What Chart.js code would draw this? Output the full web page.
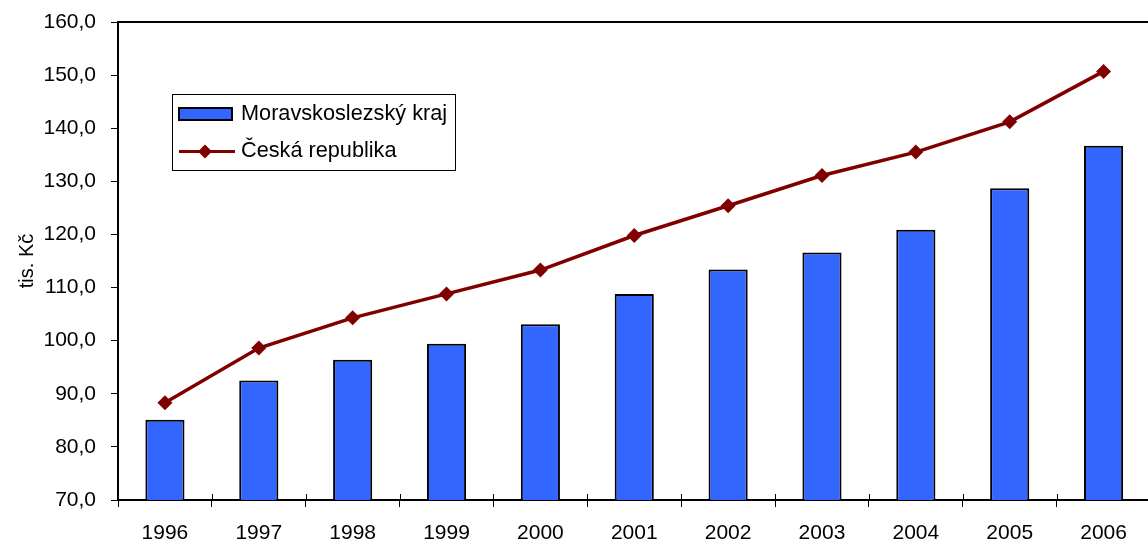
<!DOCTYPE html>
<html>
<head>
<meta charset="utf-8">
<script src="https://cdn.jsdelivr.net/npm/chart.js@4/dist/chart.umd.min.js"></script>
<style>
  html, body { margin: 0; padding: 0; background: #ffffff; overflow: hidden; }
  #wrap { width: 1158px; height: 540px; }
</style>
</head>
<body>
<div id="wrap"><canvas id="c" width="1158" height="540"></canvas></div>
<script>
const categories = ['1996','1997','1998','1999','2000','2001','2002','2003','2004','2005','2006'];
const moravskoslezsky = [85.1, 92.5, 96.4, 99.4, 103.1, 108.8, 113.4, 116.6, 120.9, 128.7, 136.7];
const ceskaRepublika = [88.3, 98.6, 104.3, 108.8, 113.3, 119.8, 125.4, 131.1, 135.5, 141.2, 150.7];
const yMin = 70, yMax = 160, yStep = 10;
const seriesLabels = ['Moravskoslezský kraj', 'Česká republika'];
const yTitle = 'tis. Kč';

const FONT = '"Liberation Sans", Arial, sans-serif';
const BLUE = '#3366ff';
const DARKRED = '#800000';

const frameAndLegend = {
  id: 'frameAndLegend',
  afterDatasetsDraw(chart) {
    const ctx = chart.ctx;
    const a = chart.chartArea;
    ctx.save();
    // top / right border of plot area
    ctx.strokeStyle = '#000';
    ctx.lineWidth = 2;
    ctx.beginPath();
    ctx.moveTo(a.left, a.top);
    ctx.lineTo(a.right, a.top);
    ctx.lineTo(a.right, a.bottom);
    ctx.stroke();

    // upper half of crossing x tick marks at category boundaries
    const xs = chart.scales.x;
    const half = (xs.getPixelForValue(1) - xs.getPixelForValue(0)) / 2;
    ctx.lineWidth = 1;
    ctx.beginPath();
    for (let i = 1; i < categories.length; i++) {
      const px = Math.round(xs.getPixelForValue(i) - half) + 0.5;
      ctx.moveTo(px, a.bottom - 6);
      ctx.lineTo(px, a.bottom);
    }
    ctx.stroke();

    // legend box
    const lx = 172, ly = 94, lw = 283, lh = 76;
    ctx.fillStyle = '#fff';
    ctx.fillRect(lx, ly, lw, lh);
    ctx.lineWidth = 1;
    ctx.strokeStyle = '#000';
    ctx.strokeRect(lx + 0.5, ly + 0.5, lw, lh);

    const ds = chart.data.datasets;
    // bar item
    ctx.fillStyle = ds[1].backgroundColor;
    ctx.fillRect(179, 108, 53, 12);
    ctx.lineWidth = 2;
    ctx.strokeStyle = '#000';
    ctx.strokeRect(179, 108, 53, 12);
    // line item
    ctx.strokeStyle = ds[0].borderColor;
    ctx.lineWidth = 3;
    ctx.beginPath();
    ctx.moveTo(179, 151.5);
    ctx.lineTo(235, 151.5);
    ctx.stroke();
    ctx.fillStyle = ds[0].borderColor;
    ctx.beginPath();
    const cx = 205, cy = 151.5, r = 7;
    ctx.moveTo(cx, cy - r); ctx.lineTo(cx + r, cy); ctx.lineTo(cx, cy + r); ctx.lineTo(cx - r, cy);
    ctx.closePath();
    ctx.fill();

    ctx.fillStyle = '#000';
    ctx.font = '21.7px ' + FONT;
    ctx.textBaseline = 'middle';
    ctx.textAlign = 'left';
    ctx.fillText(ds[1].label, 241, 114);
    ctx.fillText(ds[0].label, 241, 151.5);
    ctx.restore();
  }
};

new Chart(document.getElementById('c'), {
  type: 'bar',
  data: {
    labels: categories,
    datasets: [
      {
        type: 'line',
        label: seriesLabels[1],
        data: ceskaRepublika,
        borderColor: DARKRED,
        backgroundColor: DARKRED,
        borderWidth: 3.5,
        pointStyle: 'rectRot',
        pointRadius: 7.5,
        pointBackgroundColor: DARKRED,
        pointBorderColor: DARKRED,
        pointBorderWidth: 0,
        tension: 0,
        order: 1
      },
      {
        type: 'bar',
        label: seriesLabels[0],
        data: moravskoslezsky,
        backgroundColor: BLUE,
        borderColor: '#000',
        borderWidth: 2,
        categoryPercentage: 1,
        barPercentage: 0.417,
        order: 2
      }
    ]
  },
  options: {
    responsive: false,
    animation: false,
    devicePixelRatio: 1,
    layout: { padding: { top: 22, left: 0, right: 0, bottom: 0 } },
    plugins: {
      legend: { display: false },
      tooltip: { enabled: false }
    },
    scales: {
      x: {
        offset: true,
        grid: {
          offset: true,
          drawOnChartArea: false,
          drawTicks: true,
          tickLength: 7,
          color: '#000',
          lineWidth: 1
        },
        border: { display: true, color: '#000', width: 2 },
        ticks: {
          color: '#000',
          font: { family: FONT, size: 21 },
          padding: 14,
          maxRotation: 0,
          autoSkip: false
        },
        afterFit(scale) {
          scale.height = 40;
          scale.paddingLeft = 0;
          scale.paddingRight = 0;
        }
      },
      y: {
        min: yMin,
        max: yMax,
        grid: {
          drawOnChartArea: false,
          drawTicks: true,
          tickLength: 7,
          color: '#000',
          lineWidth: 1
        },
        border: { display: true, color: '#000', width: 2 },
        ticks: {
          stepSize: yStep,
          color: '#000',
          font: { family: FONT, size: 21 },
          padding: 15,
          callback: (v) => v.toFixed(1).replace('.', ',')
        },
        title: {
          display: true,
          text: yTitle,
          color: '#000',
          font: { family: FONT, size: 20 },
          padding: { top: 15, bottom: 0 }
        },
        afterFit(scale) {
          scale.width = 118;
          scale.paddingTop = 0;
          scale.paddingBottom = 0;
        }
      }
    }
  },
  plugins: [frameAndLegend]
});
</script>
</body>
</html>
